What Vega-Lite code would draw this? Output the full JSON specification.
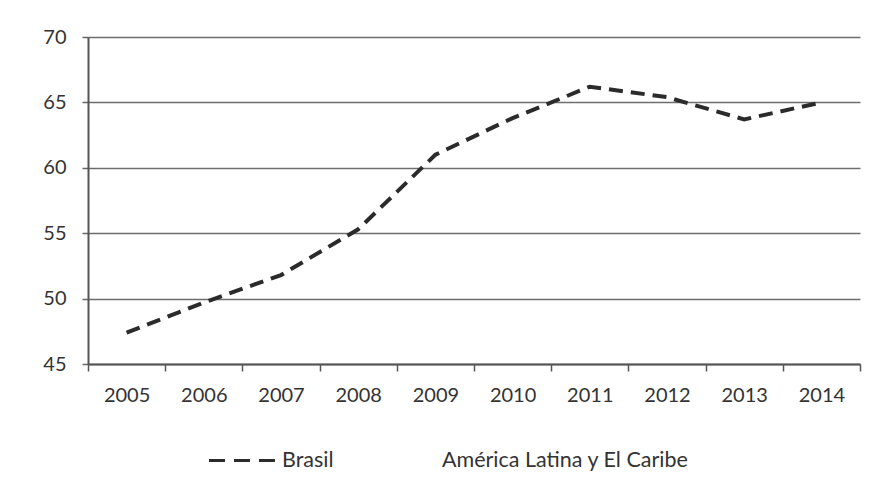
{
  "$schema": "https://vega.github.io/schema/vega-lite/v6.json",
  "width": 772,
  "height": 327,
  "autosize": {"type": "none"},
  "padding": {"left": 88, "top": 37, "right": 18, "bottom": 121},
  "background": "white",
  "config": {
    "view": {"stroke": null},
    "font": "Lato",
    "axis": {"labelFont": "Lato", "labelColor": "#333333"},
    "legend": {"labelFont": "Lato"}
  },
  "data": {
    "values": [
      {"year": "2005", "value": 47.4, "series": "Brasil"},
      {"year": "2006", "value": 49.7, "series": "Brasil"},
      {"year": "2007", "value": 51.8, "series": "Brasil"},
      {"year": "2008", "value": 55.3, "series": "Brasil"},
      {"year": "2009", "value": 61.0, "series": "Brasil"},
      {"year": "2010", "value": 63.8, "series": "Brasil"},
      {"year": "2011", "value": 66.2, "series": "Brasil"},
      {"year": "2012", "value": 65.4, "series": "Brasil"},
      {"year": "2013", "value": 63.7, "series": "Brasil"},
      {"year": "2014", "value": 65.0, "series": "Brasil"}
    ]
  },
  "layer": [
    {
      "mark": {"type": "point", "opacity": 0},
      "encoding": {
        "x": {
          "field": "year",
          "type": "ordinal",
          "scale": {"type": "band", "paddingInner": 0, "paddingOuter": 0},
          "axis": {
            "title": null,
            "labelAngle": 0,
            "labelFontSize": 20,
            "labelPadding": 14,
            "tickBand": "extent",
            "tickSize": 7,
            "tickColor": "#555",
            "tickWidth": 1.5,
            "domainColor": "#555",
            "domainWidth": 2,
            "grid": false
          }
        },
        "y": {"field": "value", "type": "quantitative"}
      }
    },
    {
      "mark": {"type": "line", "strokeWidth": 4, "strokeDash": [14, 8]},
      "encoding": {
        "x": {"field": "year", "type": "ordinal", "scale": {"type": "band", "paddingInner": 0, "paddingOuter": 0}, "bandPosition": 0.5},
        "y": {
          "field": "value",
          "type": "quantitative",
          "scale": {"domain": [45, 70], "nice": false, "zero": false},
          "axis": {
            "title": null,
            "values": [45, 50, 55, 60, 65, 70],
            "labelFontSize": 20,
            "labelPadding": 16,
            "tickSize": 6,
            "tickColor": "#666",
            "tickWidth": 1.5,
            "domainColor": "#555",
            "domainWidth": 2,
            "grid": true,
            "gridColor": "#6e6e6e",
            "gridWidth": 1.5
          }
        },
        "color": {
          "field": "series",
          "type": "nominal",
          "scale": {"domain": ["Brasil", "América Latina y El Caribe"], "range": ["#2b2b2b", "#ffffff"]},
          "legend": {
            "title": null,
            "orient": "none",
            "direction": "horizontal",
            "legendX": 119,
            "legendY": 388,
            "symbolType": "stroke",
            "symbolSize": 4500,
            "symbolStrokeWidth": 3,
            "symbolDash": [16, 9],
            "labelFontSize": 21.5,
            "labelLimit": 400,
            "labelColor": "#333333",
            "labelOffset": 4,
            "columnPadding": 28
          }
        }
      }
    }
  ]
}
